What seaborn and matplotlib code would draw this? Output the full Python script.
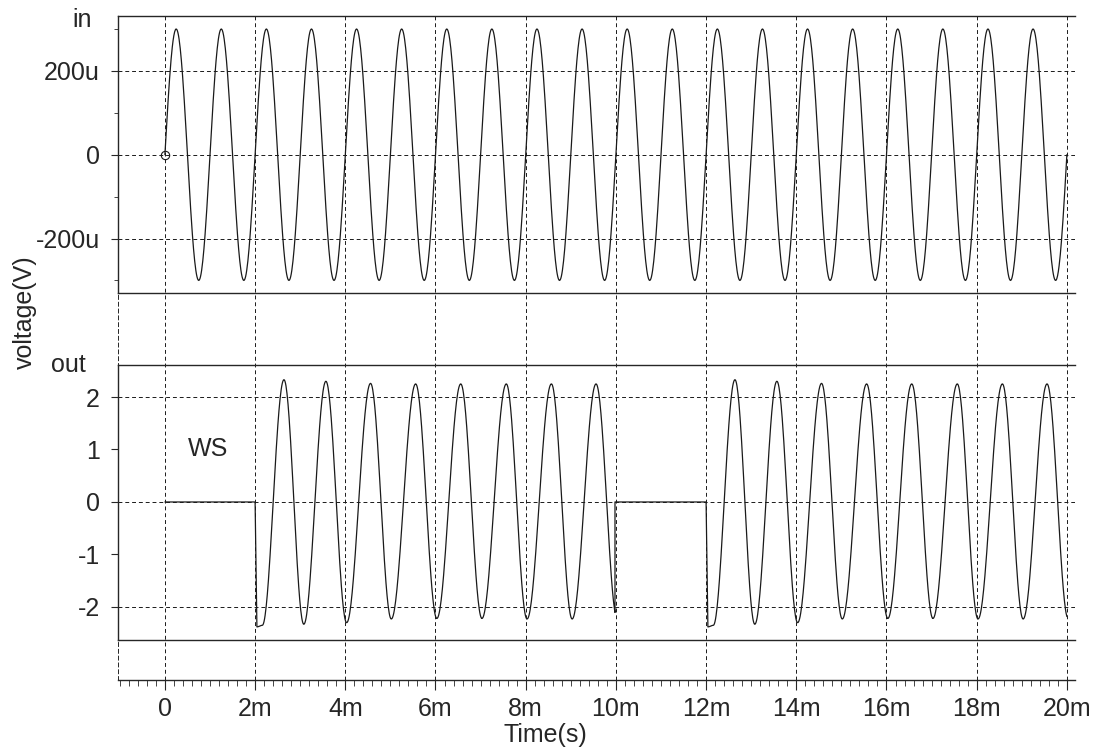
import numpy as np
import pandas as pd
import matplotlib
matplotlib.use("Agg")
import matplotlib.pyplot as plt
import seaborn as sns

# ---- values (time in ms, voltage in V) ----
# input tone: crest / trough times, amplitude 300u
in_peak_t = [0.25, 1.25, 2.25, 3.25, 4.25, 5.25, 6.25, 7.25, 8.25, 9.25,
             10.25, 11.25, 12.25, 13.25, 14.25, 15.25, 16.25, 17.25, 18.25, 19.25]
in_trough_t = [0.75, 1.75, 2.75, 3.75, 4.75, 5.75, 6.75, 7.75, 8.75, 9.75,
               10.75, 11.75, 12.75, 13.75, 14.75, 15.75, 16.75, 17.75, 18.75, 19.75]
in_amp = 300e-6
t_end = 20.0

# output bursts: gate on / off times
out_on = [2.0, 12.0]
out_off = [9.98, 20.0]
# extrema inside one burst, time after gate on
out_ext_t = [0.04, 0.16, 0.64, 1.08, 1.57, 2.03, 2.56, 3.02, 3.56,
             4.03, 4.56, 5.03, 5.57, 6.03, 6.57, 7.03, 7.56, 8.03]
out_ext_v = [-2.38, -2.35, 2.33, -2.33, 2.30, -2.30, 2.26, -2.23, 2.25,
             -2.22, 2.25, -2.22, 2.25, -2.23, 2.25, -2.23, 2.25, -2.23]

x_major = [0, 2, 4, 6, 8, 10, 12, 14, 16, 18, 20]
x_labels = ["0", "2m", "4m", "6m", "8m", "10m", "12m", "14m", "16m", "18m", "20m"]
in_ticks = [-200e-6, 0, 200e-6]
in_labels = ["-200u", "0", "200u"]
out_ticks = [-2, -1, 0, 1, 2]
out_labels = ["-2", "-1", "0", "1", "2"]


def half_cos(t0, v0, t1, v1, n=40):
    t = np.linspace(t0, t1, n)
    return t, v0 + (v1 - v0) * (1 - np.cos(np.pi * (t - t0) / (t1 - t0))) / 2


def quarter_sin(t0, t1, v1, rising=True, n=30):
    t = np.linspace(t0, t1, n)
    ph = (t - t0) / (t1 - t0) * np.pi / 2
    return t, (v1 * np.sin(ph) if rising else v1 * np.cos(ph))


# input trace
ext = sorted([(t, in_amp) for t in in_peak_t] + [(t, -in_amp) for t in in_trough_t])
tt, vv = [], []
t, v = quarter_sin(0, ext[0][0], ext[0][1])
tt.append(t); vv.append(v)
for (a, va), (b, vb) in zip(ext[:-1], ext[1:]):
    t, v = half_cos(a, va, b, vb)
    tt.append(t); vv.append(v)
t, v = quarter_sin(ext[-1][0], t_end, ext[-1][1], rising=False)
tt.append(t); vv.append(v)
df_in = pd.DataFrame({"t": np.concatenate(tt) * 1e-3, "v": np.concatenate(vv)})

# output trace
tt, vv = [np.array([0.0])], [np.array([0.0])]
for on, off in zip(out_on, out_off):
    bt = [np.array([on])]
    bv = [np.array([0.0])]
    et = [on + x for x in out_ext_t]
    bt.append(np.array([et[0]])); bv.append(np.array([out_ext_v[0]]))
    for i in range(len(et) - 1):
        t, v = half_cos(et[i], out_ext_v[i], et[i + 1], out_ext_v[i + 1])
        bt.append(t); bv.append(v)
    bt = np.concatenate(bt); bv = np.concatenate(bv)
    keep = bt < off
    cut_v = np.interp(off, bt, bv)
    bt = np.append(bt[keep], off); bv = np.append(bv[keep], cut_v)
    if off < t_end:
        bt = np.append(bt, off); bv = np.append(bv, 0.0)
    tt.append(bt); vv.append(bv)
df_out = pd.DataFrame({"t": np.concatenate(tt) * 1e-3, "v": np.concatenate(vv)})

# ---- figure ----
sns.set_style("ticks")
plt.rcParams["font.family"] = ["Liberation Sans", "DejaVu Sans"]
plt.rcParams["font.size"] = 18

W, H = 1099, 748
fig = plt.figure(figsize=(W / 100, H / 100), dpi=100)


def box(x0, y0, x1, y1):
    return [x0 / W, 1 - y1 / H, (x1 - x0) / W, (y1 - y0) / H]


dash = (0, (4, 3))
ink = "#1a1a1a"
xlim = (-1.04e-3, 20.18e-3)

ax_bg = fig.add_axes(box(118, 16, 1075, 680))
ax_bg.set_xlim(xlim)
ax_bg.set_ylim(0, 1)
ax_bg.set_yticks([])
ax_bg.set_xticks([x * 1e-3 for x in x_major])
ax_bg.set_xticklabels(x_labels)
ax_bg.set_xticks(np.arange(-1.0, 20.2, 0.2) * 1e-3, minor=True)
ax_bg.grid(axis="x", which="major", linestyle=dash, color=ink, linewidth=0.7)
for s in ["top", "right"]:
    ax_bg.spines[s].set_visible(False)
ax_bg.spines["left"].set_linestyle(dash)
ax_bg.spines["left"].set_linewidth(0.7)
ax_bg.spines["bottom"].set_linewidth(1.0)
ax_bg.tick_params(axis="x", which="major", direction="out", length=7, width=0.8, pad=5, labelsize=18)
ax_bg.tick_params(axis="x", which="minor", direction="out", length=4, width=0.6)
ax_bg.set_facecolor("white")


def panel(rect, df, ticks, labels, lim, grid_at, minor=None):
    ax = fig.add_axes(rect, sharex=ax_bg)
    ax.patch.set_alpha(0)
    sns.lineplot(data=df, x="t", y="v", ax=ax, color=ink, linewidth=0.9,
                 estimator=None, sort=False)
    for g in grid_at:
        ax.axhline(g, linestyle=dash, color=ink, linewidth=0.7, zorder=0)
    ax.set_ylim(lim)
    ax.set_yticks(ticks)
    ax.set_yticklabels(labels)
    if minor is not None:
        ax.set_yticks(minor, minor=True)
    ax.spines["right"].set_visible(False)
    for s in ["top", "bottom", "left"]:
        ax.spines[s].set_linewidth(1.0)
    ax.tick_params(axis="x", which="both", bottom=False, labelbottom=False)
    ax.tick_params(axis="y", which="major", direction="out", length=5, width=0.8, pad=8, labelsize=18)
    ax.tick_params(axis="y", which="minor", direction="out", length=3, width=0.6)
    ax.set_xlabel("")
    ax.set_ylabel("")
    return ax


ax_in = panel(box(118, 16, 1075, 293), df_in, in_ticks, in_labels,
              (-330e-6, 331e-6), in_ticks, minor=[-300e-6, -100e-6, 100e-6, 300e-6])
ax_in.plot([0], [0], marker="o", markersize=6, markerfacecolor="none",
           markeredgecolor=ink, markeredgewidth=0.8)
ax_in.set_xlim(xlim)

ax_out = panel(box(118, 365, 1075, 640), df_out, out_ticks, out_labels,
               (-2.63, 2.61), [-2, 0, 2])
ax_out.text(0.95e-3, 1.0, "WS", ha="center", va="center", fontsize=18)
ax_out.set_xlim(xlim)

fig.text(82 / W, 1 - 20 / H, "in", ha="center", va="center", fontsize=18)
fig.text(68 / W, 1 - 365 / H, "out", ha="center", va="center", fontsize=18)
fig.text(25 / W, 1 - 312 / H, "voltage(V)", ha="center", va="center",
         rotation=90, fontsize=18)
fig.text(545 / W, 1 - 735 / H, "Time(s)", ha="center", va="center", fontsize=18)

fig.savefig("out.png", dpi=100)
